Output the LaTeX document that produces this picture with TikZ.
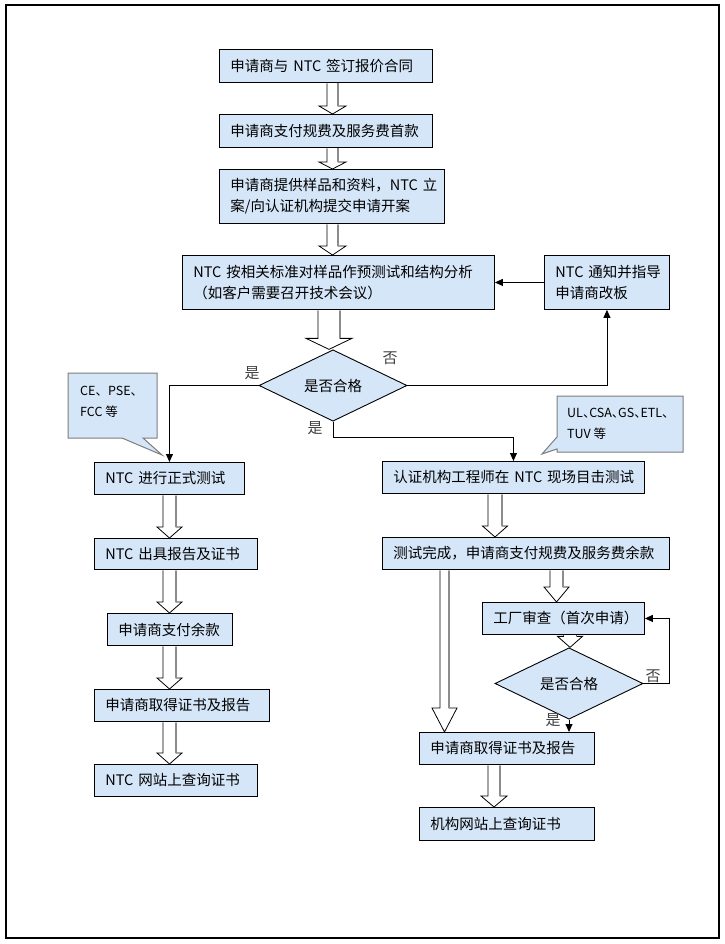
\documentclass[tikz,border=0pt]{standalone}
\usepackage{fontspec}
\newfontfamily\cjk{Noto Sans CJK SC}
\newfontfamily\cjkh[RawFeature=+halt]{Noto Sans CJK SC}
\usetikzlibrary{shapes.geometric,arrows.meta,calc}
\definecolor{boxblue}{RGB}{213,230,248}
\definecolor{calloutgray}{RGB}{125,125,125}
\tikzset{
  box/.style={draw=black, line width=0.9pt, fill=boxblue, inner xsep=11pt, inner ysep=2pt,
    align=left, anchor=north west, font={\cjk\fontsize{14.5}{21}\selectfont}},
  dia/.style={diamond, draw=black, line width=0.9pt, fill=boxblue, inner sep=0pt,
    font={\cjk\fontsize{14.5}{17}\selectfont}},
  arr/.style={draw=black, line width=0.9pt, -{Triangle[length=8pt,width=7pt]}},
  blkline/.style={draw=black, fill=white, line width=0.8pt, line join=miter},
  blkshade/.style={draw=black!45, line width=1.6pt},
  lbl/.style={font={\cjk\fontsize{15}{17}\selectfont}, text=black!75, inner sep=0pt},
  callshape/.style={draw=calloutgray, fill=boxblue, line width=1pt, line join=miter},
  ctext/.style={align=left, anchor=west, inner sep=0pt, font={\cjk\fontsize{12.5}{21}\selectfont}},
}
% block arrow: from, to, x-centre, shaft half width, head half width, head length
\newcommand\blkarrow[6]{%
  \draw[blkline] let \p1=(#1.south), \p2=(#2.north) in
    ({#3pt-#4pt},{\y1-0.45pt}) -- ({#3pt-#4pt},{\y2+#6pt}) -- ({#3pt-#5pt},{\y2+#6pt})
    -- (#3pt,\y2) -- ({#3pt+#5pt},{\y2+#6pt}) -- ({#3pt+#4pt},{\y2+#6pt}) -- ({#3pt+#4pt},{\y1-0.45pt});
  \draw[blkshade] let \p1=(#1.south), \p2=(#2.north) in
    ({#3pt+#4pt},{\y1-0.6pt}) -- ({#3pt+#4pt},{\y2+#6pt});
}
\begin{document}
\begin{tikzpicture}[x=1pt,y=-1pt]
\useasboundingbox (0,0) rectangle (724,944);
\draw[line width=1.2pt] (6,5) rectangle (719,938);

% main column
\node[box, minimum width=213, minimum height=33, text width=191pt] (b1) at (219,49) {\mbox{申请商与 NTC 签订报价合同}};
\node[box, minimum width=213, minimum height=33, text width=191pt] (b2) at (219,114) {\mbox{申请商支付规费及服务费首款}};
\node[box, minimum width=225, minimum height=54, text width=203pt] (b3) at (219,169) {\mbox{申请商提供样品和资料，NTC 立}\\\mbox{案/向认证机构提交申请开案}};
\node[box, minimum width=312, minimum height=54, text width=290pt] (b4) at (182,255) {\mbox{NTC 按相关标准对样品作预测试和结构分析}\\\mbox{（如客户需要召开技术会议）}};
\node[box, minimum width=125, minimum height=54, text width=103pt] (b5) at (544,255) {\mbox{NTC 通知并指导}\\\mbox{申请商改板}};
\node[dia, minimum width=148, minimum height=65] (d1) at (333,385.5) {是否合格};

% left column
\node[box, minimum width=150, minimum height=32, text width=128pt] (L1) at (94,462) {\mbox{NTC 进行正式测试}};
\node[box, minimum width=163, minimum height=31, text width=141pt] (L2) at (94,538) {\mbox{NTC 出具报告及证书}};
\node[box, minimum width=125, minimum height=32, text width=103pt] (L3) at (107,613) {\mbox{申请商支付余款}};
\node[box, minimum width=175, minimum height=32, text width=153pt] (L4) at (94,689) {\mbox{申请商取得证书及报告}};
\node[box, minimum width=163, minimum height=32, text width=141pt] (L5) at (94,764) {\mbox{NTC 网站上查询证书}};

% right column
\node[box, minimum width=262, minimum height=32, text width=240pt] (R1) at (382,461) {\mbox{认证机构工程师在 NTC 现场目击测试}};
\node[box, minimum width=287, minimum height=32, text width=265pt] (R2) at (382,537) {\mbox{测试完成，申请商支付规费及服务费余款}};
\node[box, minimum width=162, minimum height=32, text width=140pt] (R3) at (482,602) {\mbox{工厂审查（首次申请）}};
\node[dia, minimum width=148, minimum height=53] (d2) at (569,683.5) {是否合格};
\node[box, minimum width=175, minimum height=32, text width=153pt] (R4) at (419,732) {\mbox{申请商取得证书及报告}};
\node[box, minimum width=175, minimum height=33, text width=153pt] (R5) at (419,807) {\mbox{机构网站上查询证书}};

% callouts
\draw[callshape] (68,373) -- (157,373) -- (157,438) -- (143,438) -- (162,455) -- (122,438) -- (68,438) -- cycle;
\node[ctext] (c1) at (80,402) {CE、PSE、\\FCC 等};
\draw[callshape] (557,396) -- (683,396) -- (683,452) -- (557,452) -- (557,449) -- (542,454) -- (557,437) -- cycle;
\node[ctext, font={\cjkh\fontsize{12.5}{21}\selectfont}] (c2) at (567,424) {UL、CSA、GS、ETL、\\TUV 等};

% block arrows
\blkarrow{b1}{b2}{332.5}{5.5}{13.5}{8}
\blkarrow{b2}{b3}{332.5}{5.5}{13.5}{7}
\blkarrow{b3}{b4}{332.5}{5.5}{13.5}{9}
\blkarrow{b4}{d1}{329}{11}{23}{11}
\blkarrow{L1}{L2}{169.5}{6.5}{12.5}{11}
\blkarrow{L2}{L3}{169.5}{6.5}{12.5}{11}
\blkarrow{L3}{L4}{169.5}{6.5}{12.5}{11}
\blkarrow{L4}{L5}{169.5}{6.5}{12.5}{11}
\blkarrow{R1}{R2}{495}{7}{12.5}{11}
\blkarrow{R2}{R3}{556.5}{6.5}{12.5}{15}
\blkarrow{R3}{d2}{570}{6.5}{12.5}{11}
\blkarrow{R2}{R4}{444.5}{4.5}{12.5}{24}
\blkarrow{R4}{R5}{494}{6}{13}{11}

% connectors
\coordinate (j1) at (333,437);
\coordinate (j2) at (669,683.5);
\draw[arr] (d1.west) -| (L1.north);
\draw[arr] (d1.east) -| (b5.south);
\draw[arr] (b5.west) -- (b4.east);
\draw[arr] (d1.south) -- (j1) -| (R1.north);
\draw[arr] (d2.east) -- (j2) |- (R3.east);
\draw[arr] (d2.south) -- (d2.south |- R4.north);

% labels
\node[lbl] (t1) at (252,373) {是};
\node[lbl] (t2) at (390,358) {否};
\node[lbl] (t3) at (315,428) {是};
\node[lbl] (t4) at (653,676) {否};
\node[lbl] (t5) at (553,720) {是};
\end{tikzpicture}
\end{document}
